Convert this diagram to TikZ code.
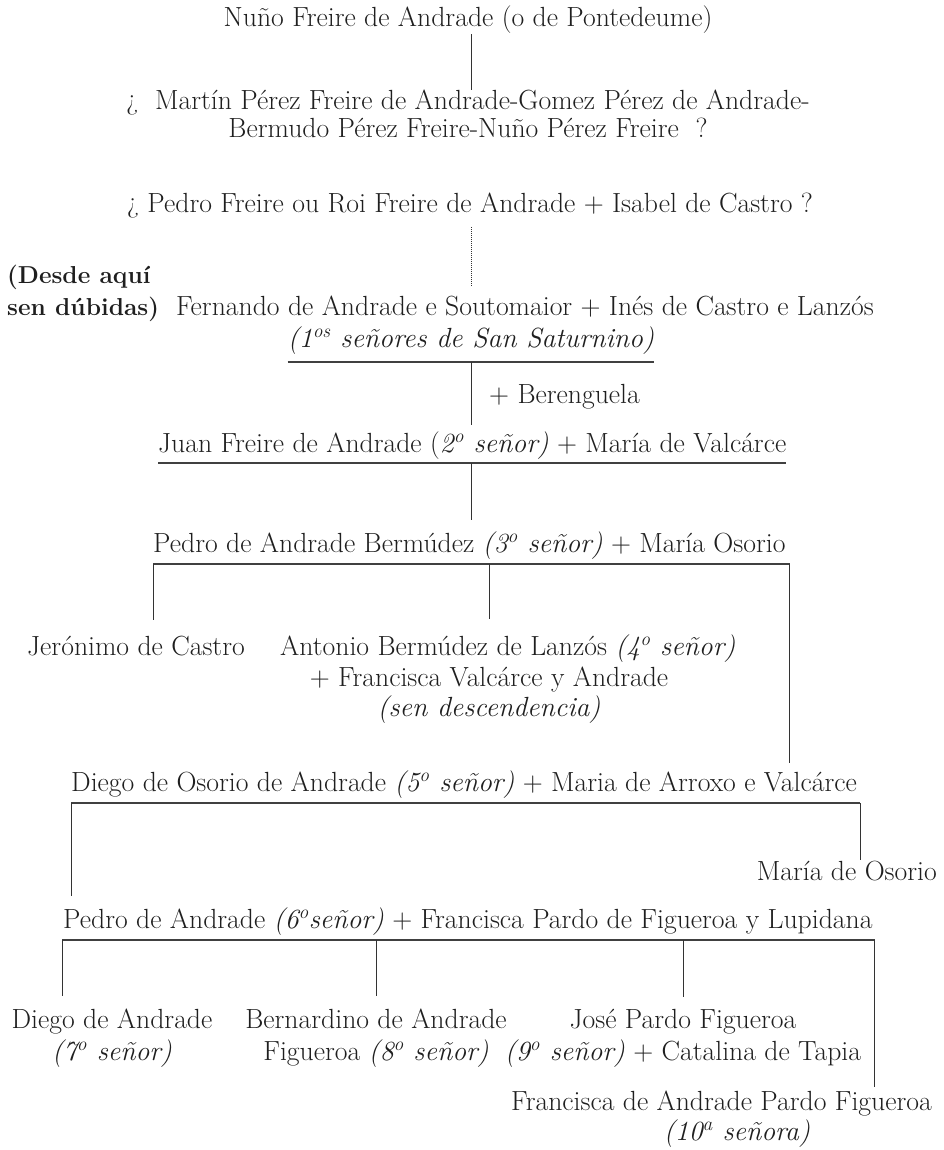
\documentclass[tikz,border=0pt]{standalone}
\usepackage{fontspec}
\usetikzlibrary{calc}

\def\barsep{12}

\begin{document}
\begin{tikzpicture}[x=1pt, y=-1pt, font=\fontsize{27.7}{32}\selectfont]
    \tikzstyle{person}=[inner sep=0pt, text=black!88]
    \tikzstyle{note}=[person, font=\fontsize{24.5}{30}\selectfont\bfseries]
    \tikzstyle{bar}=[draw=black!75, line width=1.2pt]
    \tikzstyle{link}=[draw=black!80, line width=0.9pt]
    \tikzstyle{doubt}=[draw=black!80, line width=0.6pt, dash pattern=on 0.8pt off 1.2pt]

    \useasboundingbox (0,0) rectangle (944,1150);
    \coordinate (axis) at (471,0);

    % Draw the first (uncertain) generations
    \node[person, anchor=base] (nuno) at (468,27) {Nuño Freire de Andrade (o de Pontedeume)};
    \node[person, anchor=base] (martin-1) at (468,110) {¿\ \ Martín Pérez Freire de Andrade-Gomez Pérez de Andrade-};
    \node[person, anchor=base] (martin-2) at (468,138) {Bermudo Pérez Freire-Nuño Pérez Freire\ \ ?};
    \node[person, anchor=base] (pfreire) at (470,213) {¿ Pedro Freire ou Roi Freire de Andrade + Isabel de Castro ?};

    % Note on the left
    \node[note, anchor=base west] (note-1) at (7,283) {(Desde aquí};
    \node[note, anchor=base west] (note-2) at (7,315) {sen dúbidas)};

    % Draw the lords of San Saturnino
    \node[person, anchor=base west] (fernando) at (176,315) {Fernando de Andrade e Soutomaior + Inés de Castro e Lanzós};
    \node[person, anchor=base] (ses) at (471,347) {\textit{(1\textsuperscript{os} señores de San Saturnino)}};
    \node[person, anchor=base west] (beren) at (489,403) {+ Berenguela};
    \node[person, anchor=base west] (juan) at (158,452) {Juan Freire de Andrade (\textit{2\textsuperscript{o} señor)} + María de Valcárce};
    \node[person, anchor=base west] (pbermudez) at (153,552) {Pedro de Andrade Bermúdez \textit{(3\textsuperscript{o} señor)} + María Osorio};

    \node[person, anchor=base west] (jeronimo) at (27,655) {Jerónimo de Castro};
    \node[person, anchor=base west] (antonio-1) at (280,655) {Antonio Bermúdez de Lanzós \textit{(4\textsuperscript{o} señor)}};
    \node[person, anchor=base] (antonio-2) at (489,686) {+ Francisca Valcárce y Andrade};
    \node[person, anchor=base] (antonio-3) at (489,716) {\textit{(sen descendencia)}};

    \node[person, anchor=base west] (dosorio) at (71,791) {Diego de Osorio de Andrade \textit{(5\textsuperscript{o} señor)} + Maria de Arroxo e Valcárce};
    \node[person, anchor=base east] (mosorio) at (937,880) {María de Osorio};
    \node[person, anchor=base west] (pandrade) at (63,928) {Pedro de Andrade \textit{(6\textsuperscript{o}señor)} + Francisca Pardo de Figueroa y Lupidana};

    % Children of the 6th lord
    \node[person, anchor=base] (dandrade-1) at (112,1028) {Diego de Andrade};
    \node[person, anchor=base] (dandrade-2) at (112,1060) {\textit{(7\textsuperscript{o} señor)}};
    \node[person, anchor=base] (bern-1) at (376,1028) {Bernardino de Andrade};
    \node[person, anchor=base] (bern-2) at (376,1060) {Figueroa \textit{(8\textsuperscript{o} señor)}};
    \node[person, anchor=base] (jose-1) at (683,1028) {José Pardo Figueroa};
    \node[person, anchor=base] (jose-2) at (683,1060) {\textit{(9\textsuperscript{o} señor)} + Catalina de Tapia};
    \node[person, anchor=base east] (fran-1) at (932,1110) {Francisca de Andrade Pardo Figueroa};
    \node[person, anchor=base] (fran-2) at (737,1140) {\textit{(10\textsuperscript{a} señora)}};

    % Couple bars
    \coordinate (ses-w) at ($(ses.base west)+(0,15)$);
    \coordinate (ses-e) at ($(ses.base east)+(0,15)$);
    \coordinate (juan-w) at ($(juan.base west)+(0,11)$);
    \coordinate (juan-e) at ($(juan.base east)+(0,11)$);
    \coordinate (pb-w) at ($(pbermudez.base west)+(0,\barsep)$);
    \coordinate (pb-e) at ($(pbermudez.base east)+(4,\barsep)$);
    \coordinate (do-w) at ($(dosorio.base west)+(0,\barsep)$);
    \coordinate (do-e) at ($(dosorio.base east)+(3,\barsep)$);
    \coordinate (pa-w) at ($(pandrade.base west)+(-1,\barsep)$);
    \coordinate (pa-e) at ($(pandrade.base east)+(2,\barsep)$);
    \foreach \name in {ses,juan,pb,do,pa}
        \draw[bar] (\name-w) -- (\name-e);

    % Connect parents and children
    \draw[link] (nuno.south -| axis) -- (martin-1.north -| axis);
    \draw[doubt, shorten <=8pt, shorten >=9pt] (pfreire.south -| axis) -- (fernando.north -| axis);
    \draw[link, shorten >=6pt] (axis |- ses-w) -- (axis |- juan.north);
    \draw[link, shorten >=11pt] (axis |- juan-w) -- (axis |- pbermudez.north);

    \draw[link, shorten >=15pt] (pb-w) -- (pb-w |- jeronimo.north);
    \draw[link, shorten >=15pt] (antonio-2 |- pb-w) -- (antonio-2 |- antonio-1.north);
    \draw[link, shorten >=7pt] (pb-e) -- (pb-e |- dosorio.north);

    \draw[link, shorten >=11pt] (do-w) -- (do-w |- pandrade.north);
    \draw[link] (do-e) -- (do-e |- mosorio.north);

    \draw[link, shorten >=12pt] (pa-w) -- (pa-w |- dandrade-1.north);
    \draw[link, shorten >=12pt] (bern-1 |- pa-w) -- (bern-1.north);
    \draw[link, shorten >=12pt] (jose-1 |- pa-w) -- (jose-1.north);
    \draw[link, shorten >=3pt] (pa-e) -- (pa-e |- fran-1.north);
\end{tikzpicture}
\end{document}
